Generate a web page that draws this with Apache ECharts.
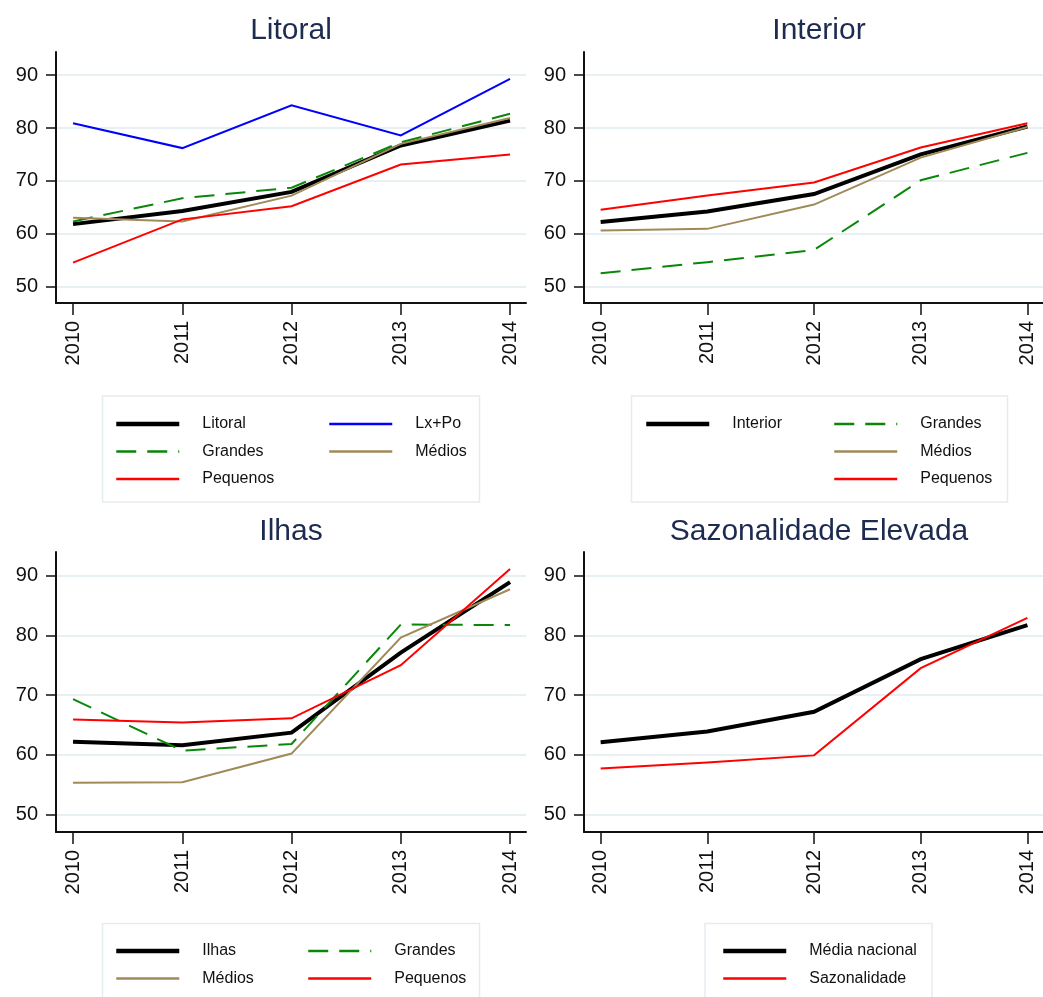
<!DOCTYPE html>
<html>
<head>
<meta charset="utf-8">
<script src="https://cdn.jsdelivr.net/npm/echarts@6/dist/echarts.min.js"></script>
<style>
  html, body { margin: 0; padding: 0; background: #fff; }
  #chart { width: 1043px; height: 997px; }
</style>
</head>
<body>
<div id="chart"></div>
<script>
// Occupancy index by region and size class, 2010-2014
const years = [2010, 2011, 2012, 2013, 2014];
const yTicks = [50, 60, 70, 80, 90];

const litoral         = [61.8, 64.3, 67.9, 76.7, 81.4];
const litoralLxPo     = [80.9, 76.2, 84.3, 78.6, 89.3];
const litoralGrandes  = [62.3, 66.7, 68.7, 77.3, 82.7];
const litoralMedios   = [63.0, 62.3, 67.2, 77.0, 81.9];
const litoralPequenos = [54.5, 62.7, 65.2, 73.1, 75.0];

const interior         = [62.2, 64.2, 67.5, 75.0, 80.3];
const interiorGrandes  = [52.5, 54.6, 56.9, 70.1, 75.3];
const interiorMedios   = [60.6, 60.9, 65.5, 74.4, 80.2];
const interiorPequenos = [64.5, 67.2, 69.7, 76.3, 80.9];

const ilhas         = [62.2, 61.6, 63.7, 77.1, 88.9];
const ilhasGrandes  = [69.3, 60.7, 61.8, 81.8, 81.7];
const ilhasMedios   = [55.3, 55.4, 60.2, 79.6, 87.7];
const ilhasPequenos = [65.9, 65.4, 66.1, 75.0, 91.1];

const mediaNacional = [62.1, 63.9, 67.2, 76.0, 81.7];
const sazonalidade  = [57.7, 58.7, 59.9, 74.5, 82.9];

const FONT = '"Liberation Sans", Arial, Helvetica, sans-serif';
const TITLE_COLOR = '#1d2b50';

// line look per series name
const styles = {
  'Litoral':        { color: '#000000', width: 4, type: 'solid' },
  'Interior':       { color: '#000000', width: 4, type: 'solid' },
  'Ilhas':          { color: '#000000', width: 4, type: 'solid' },
  'Média nacional': { color: '#000000', width: 4, type: 'solid' },
  'Lx+Po':          { color: '#0000ff', width: 2, type: 'solid' },
  'Grandes':        { color: '#0a870a', width: 2, type: [20, 11] },
  'Médios':         { color: '#a08a58', width: 2, type: 'solid' },
  'Pequenos':       { color: '#ff0000', width: 2, type: 'solid' },
  'Sazonalidade':   { color: '#ff0000', width: 2, type: 'solid' }
};

// panel layout
const panels = [
  { title: 'Litoral', left: 56, top: 52, width: 470, height: 251, yMin: 46.86, yMax: 94.4,
    series: [['Litoral', litoral], ['Lx+Po', litoralLxPo], ['Grandes', litoralGrandes],
             ['Médios', litoralMedios], ['Pequenos', litoralPequenos]] },
  { title: 'Interior', left: 584, top: 52, width: 470, height: 251, yMin: 46.86, yMax: 94.4,
    series: [['Interior', interior], ['Grandes', interiorGrandes],
             ['Médios', interiorMedios], ['Pequenos', interiorPequenos]] },
  { title: 'Ilhas', left: 56, top: 552, width: 470, height: 280, yMin: 47.08, yMax: 93.93,
    series: [['Ilhas', ilhas], ['Grandes', ilhasGrandes],
             ['Médios', ilhasMedios], ['Pequenos', ilhasPequenos]] },
  { title: 'Sazonalidade Elevada', left: 584, top: 552, width: 470, height: 280, yMin: 47.08, yMax: 93.93,
    series: [['Média nacional', mediaNacional], ['Sazonalidade', sazonalidade]] }
];

// legend columns: [left, top of first row, items]
const legendCols = [
  [114, 416, ['Litoral', 'Grandes', 'Pequenos']],
  [328, 416, ['Lx+Po', 'Médios']],
  [644, 416, ['Interior']],
  [833, 416, ['Grandes', 'Médios', 'Pequenos']],
  [114, 943, ['Ilhas', 'Médios']],
  [307, 943, ['Grandes', 'Pequenos']],
  [721, 943, ['Média nacional', 'Sazonalidade']]
];

// legend frames
const legendBoxes = [
  [102.5, 396, 377, 106],
  [631.5, 396, 376, 106],
  [102.5, 923.5, 377, 100],
  [705, 923.5, 227, 100]
];

const titleCenters = [[291, 31], [819, 31], [291, 532], [819, 532]];

const grids = [], xAxes = [], yAxes = [], series = [];

panels.forEach((p, i) => {
  grids.push({ left: p.left, top: p.top, width: p.width, height: p.height, containLabel: false });
  xAxes.push({
    type: 'value', gridIndex: i, min: 2009.844, max: 2014.146,
    axisLine: { show: true, lineStyle: { color: '#111', width: 2 } },
    axisTick: { show: true, length: 12, lineStyle: { color: '#111', width: 1.5 }, customValues: years },
    axisLabel: { show: true, rotate: 90, margin: 18, customValues: years,
                 fontFamily: FONT, fontSize: 20, color: '#111', formatter: v => String(v) },
    splitLine: { show: false }
  });
  yAxes.push({
    type: 'value', gridIndex: i, min: p.yMin, max: p.yMax,
    axisLine: { show: true, onZero: false, lineStyle: { color: '#111', width: 2 } },
    axisTick: { show: true, length: 10, lineStyle: { color: '#111', width: 1.5 }, customValues: yTicks },
    axisLabel: { show: true, margin: 18, customValues: yTicks,
                 fontFamily: FONT, fontSize: 20, color: '#111' },
    splitLine: { show: true, customValues: yTicks, lineStyle: { color: '#e9f0f3', width: 2 } }
  });
  p.series.forEach(([name, vals]) => {
    const s = styles[name];
    series.push({
      type: 'line', name: name, xAxisIndex: i, yAxisIndex: i,
      data: years.map((y, k) => [y, vals[k]]),
      symbol: 'none', silent: true, animation: false,
      color: s.color,
      lineStyle: { color: s.color, width: s.width, type: s.type, cap: 'butt', join: 'miter' }
    });
  });
});

// legend keys show the line only (the symbol is made fully transparent)
const legends = legendCols.map(([left, top, items]) => ({
  orient: 'vertical', left: left, top: top, padding: 0,
  itemWidth: 63, itemHeight: 14, itemGap: 11.5,
  data: items.map(name => ({
    name: name,
    lineStyle: { color: styles[name].color, width: styles[name].width + 0.5, type: styles[name].type }
  })),
  selectedMode: false,
  itemStyle: { opacity: 0 },
  textStyle: { fontFamily: FONT, fontSize: 16, color: '#111', lineHeight: 16, padding: [0, 0, 0, 18] }
}));

const graphic = [];
legendBoxes.forEach(([x, y, w, h]) => {
  graphic.push({ type: 'rect', z: -10, shape: { x, y, width: w, height: h },
                 style: { fill: '#ffffff', stroke: '#e3ecef', lineWidth: 1.5 } });
});
panels.forEach((p, i) => {
  graphic.push({ type: 'text', x: titleCenters[i][0], y: titleCenters[i][1],
                 style: { text: p.title, fontFamily: FONT, fontSize: 30, fill: TITLE_COLOR,
                          textAlign: 'center', textVerticalAlign: 'middle' } });
});

const chart = echarts.init(document.getElementById('chart'), null, { renderer: 'canvas' });
chart.setOption({
  backgroundColor: '#ffffff',
  animation: false,
  grid: grids,
  xAxis: xAxes,
  yAxis: yAxes,
  legend: legends,
  graphic: graphic,
  series: series
});
</script>
</body>
</html>
